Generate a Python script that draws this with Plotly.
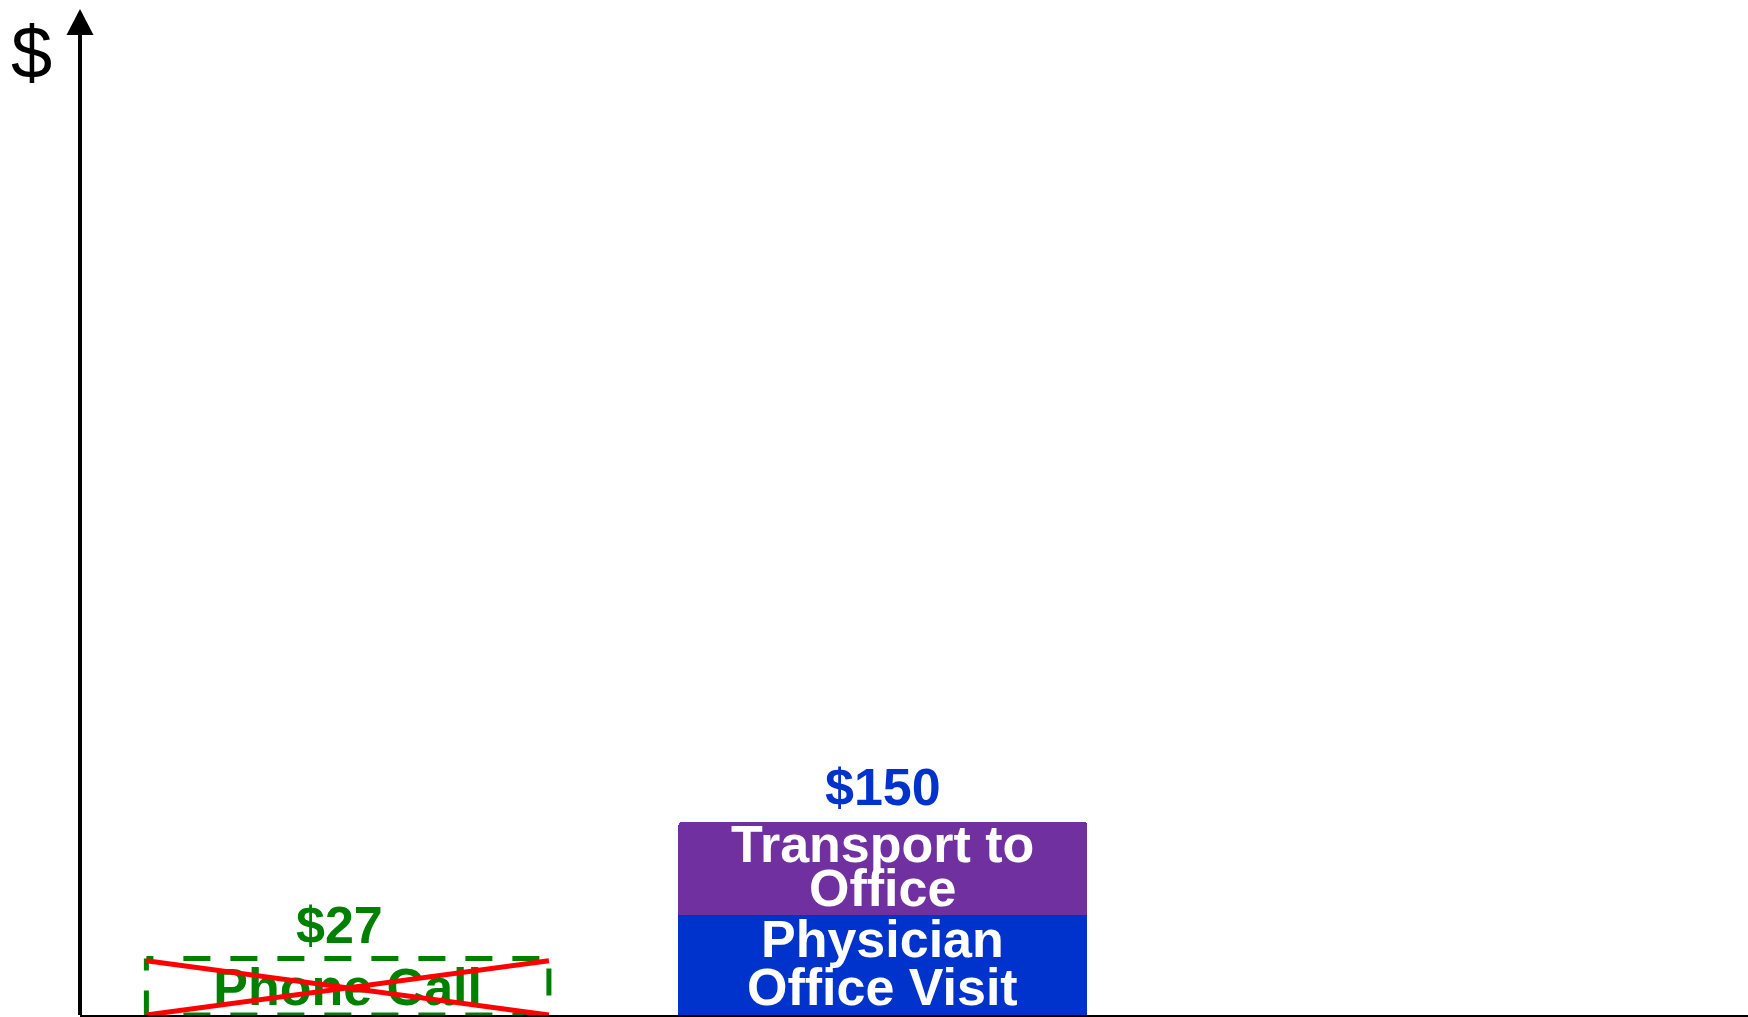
import plotly.graph_objects as go

# ---------------- data ----------------
categories = ["Phone Call", "Office"]
x_pos = [0, 1]
phone_label = ["$27"]
phone_box_height = [44]          # drawn height of the crossed-out box
physician_visit = [78]           # lower segment of the office bar
transport_to_office = [72]       # upper segment of the office bar
office_total_label = ["$150"]
segment_names = ["Physician Office Visit", "Transport to Office"]

# ---------------- style ----------------
GREEN = "#008000"
BLUE = "#0033CC"
PURPLE = "#7030A0"
RED = "#FF0000"
FONT = "Liberation Sans, Arial, sans-serif"
BAR_W = 0.764
BOX_W = 0.752

fig = go.Figure()

# office stacked bar
fig.add_trace(go.Bar(x=[x_pos[1]], y=physician_visit, width=BAR_W,
                     marker=dict(color=BLUE, line=dict(width=0)),
                     name=segment_names[0], hoverinfo="skip"))
fig.add_trace(go.Bar(x=[x_pos[1]], y=transport_to_office, width=BAR_W,
                     marker=dict(color=PURPLE, line=dict(width=0)),
                     name=segment_names[1], hoverinfo="skip"))

# phone call text inside the crossed-out box (trace layer, below the X)
h = phone_box_height[0]
fig.add_trace(go.Scatter(x=[x_pos[0]], y=[h * 0.4], mode="text",
                         text=["<b>" + categories[0] + "</b>"],
                         textposition="middle center",
                         textfont=dict(size=52, color=GREEN, family=FONT),
                         hoverinfo="skip"))

x0 = x_pos[0] - BOX_W / 2
x1 = x_pos[0] + BOX_W / 2
shapes = []
# dashed box sides
shapes.append(dict(type="line", xref="x", yref="y", x0=x0, y0=h, x1=x0, y1=0,
                   line=dict(color=GREEN, width=5, dash="12px,20px,27px,20px")))
top_dash = "7px,30px" + ",27px,20px" * 9
shapes.append(dict(type="line", xref="x", yref="y", x0=x0, y0=h, x1=x1, y1=h,
                   line=dict(color=GREEN, width=5, dash=top_dash)))
shapes.append(dict(type="line", xref="x", yref="y", x0=x1, y0=h, x1=x1, y1=0,
                   line=dict(color=GREEN, width=5, dash="0px,10px,27px,10px")))
shapes.append(dict(type="line", xref="x", yref="y", x0=x0, y0=0, x1=x1, y1=0,
                   line=dict(color=GREEN, width=5, dash=top_dash)))
# red X
shapes.append(dict(type="line", xref="x", yref="y", x0=x0, y0=h * 0.96, x1=x1, y1=0,
                   line=dict(color=RED, width=5)))
shapes.append(dict(type="line", xref="x", yref="y", x0=x0, y0=0, x1=x1, y1=h * 0.96,
                   line=dict(color=RED, width=5)))
# y axis with arrow
shapes.append(dict(type="line", xref="paper", yref="paper", x0=0, x1=0, y0=0, y1=0.985,
                   line=dict(color="black", width=4)))
shapes.append(dict(type="path", xref="paper", yref="paper",
                   xsizemode="pixel", ysizemode="pixel", xanchor=0, yanchor=1,
                   path="M -13.5,-26 L 13.5,-26 L 0,0 Z",
                   fillcolor="black", line=dict(width=0)))

annotations = []
bold = dict(family=FONT, size=52, weight="bold")
annotations.append(dict(xref="paper", yref="paper", x=0, y=1, xshift=-49, yshift=-43,
                        text="$", showarrow=False, xanchor="center", yanchor="middle",
                        font=dict(family=FONT, size=74, color="black")))
annotations.append(dict(x=x_pos[0], y=h, yshift=33, xshift=-8, text=phone_label[0],
                        showarrow=False, yanchor="middle",
                        font=dict(**bold, color=GREEN)))
total = physician_visit[0] + transport_to_office[0]
annotations.append(dict(x=x_pos[1], y=total, yshift=35, text=office_total_label[0],
                        showarrow=False, yanchor="middle",
                        font=dict(**bold, color=BLUE)))
tc = physician_visit[0] + transport_to_office[0] / 2
for txt, dy in [("Transport to", 24), ("Office", -20)]:
    annotations.append(dict(x=x_pos[1], y=tc, yshift=dy, text=txt, showarrow=False,
                            yanchor="middle", font=dict(**bold, color="white")))
pc = physician_visit[0] / 2
for txt, dy in [("Physician", 26), ("Office Visit", -22)]:
    annotations.append(dict(x=x_pos[1], y=pc, yshift=dy, text=txt, showarrow=False,
                            yanchor="middle", font=dict(**bold, color="white")))

fig.update_layout(
    width=1748, height=1017,
    margin=dict(l=80, r=0, t=9, b=2, pad=0),
    paper_bgcolor="white", plot_bgcolor="white",
    barmode="stack", barcornerradius=3,
    showlegend=False,
    shapes=shapes, annotations=annotations,
    xaxis=dict(range=[-0.5, 2.616], showline=True, linecolor="black", linewidth=2,
               showticklabels=False, ticks="", showgrid=False, zeroline=False),
    yaxis=dict(range=[0, 782], showline=False, showticklabels=False, ticks="",
               showgrid=False, zeroline=False),
)

fig.write_html("out.html", config={"displayModeBar": False},
               post_script="document.body.style.margin='0';document.body.style.overflow='hidden';")
